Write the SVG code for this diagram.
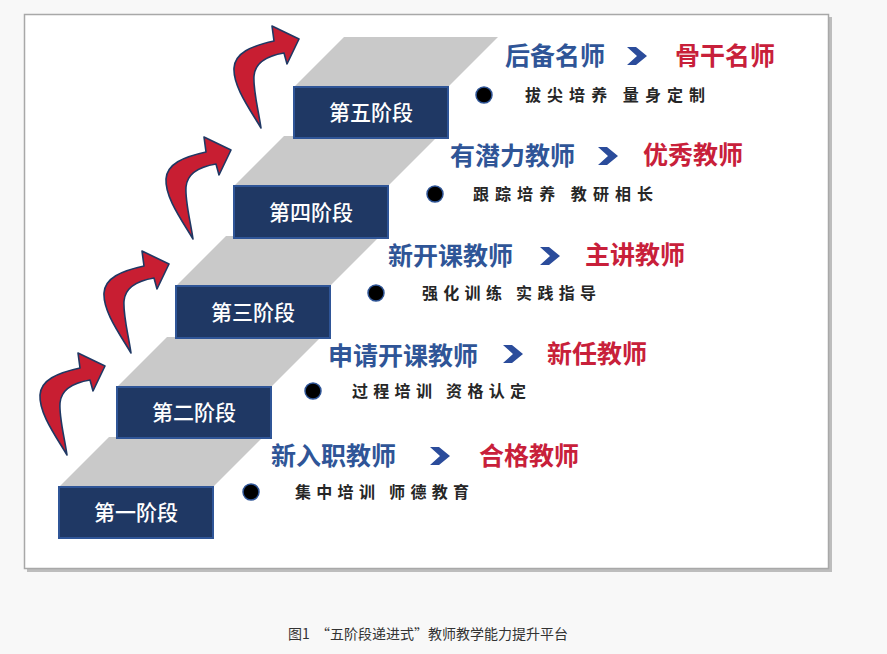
<svg xmlns="http://www.w3.org/2000/svg" xmlns:xlink="http://www.w3.org/1999/xlink" width="887" height="654" viewBox="0 0 887 654">
<style>
.box{fill:#1F3864;stroke:#2F5597;stroke-width:2}
.top{fill:#C9C9C9}
.bt{font-family:"Noto Sans CJK SC","Noto Sans",sans-serif;font-size:21px;font-weight:500;fill:#FFFFFF;text-anchor:middle}
.blue{font-family:"Noto Sans CJK SC","Noto Sans",sans-serif;font-size:25px;font-weight:700;fill:#2F5597}
.red{font-family:"Noto Sans CJK SC","Noto Sans",sans-serif;font-size:25px;font-weight:700;fill:#C8203A}
.desc{font-family:"Noto Sans CJK SC","Noto Sans",sans-serif;font-size:16px;font-weight:700;fill:#262626}
.dot{fill:#000000;stroke:#2F5597;stroke-width:1.5}
.chev{fill:#2B4C9B}
.arr{fill:#C81E32;stroke:#1F3864;stroke-width:1.6;stroke-linejoin:round}
.cap{font-family:"Noto Sans CJK SC","Noto Sans",sans-serif;font-size:14px;fill:#333333}
</style>
<defs>
<path id="arrow" d="M0,0 C-12,-20 -28,-42 -27,-60 C-26,-75 -10,-82 13,-87 L11,-102 L38,-89 L26,-64 L23,-75 C5,-72 -6,-64 -7,-52 C-8,-38 -3,-20 0,0 Z"/>
<path id="chev" d="M0,-9 L9,-9 L20,0 L9,9 L0,9 L10,0 Z"/>
</defs>
<rect x="0" y="0" width="887" height="654" fill="#F8F8F8"/>
<g id="frame">
<rect x="27" y="17" width="805" height="555" fill="#BDBDBD"/>
<rect x="24.5" y="14.5" width="804" height="554" fill="#FFFFFF" stroke="#A8A8A8" stroke-width="1.5"/>
</g>
<g id="stage1">
<polygon class="top" points="59,487 213,487 263,437 109,437"/>
<rect class="box" x="59" y="487" width="154" height="51"/>
<text class="bt" x="136" y="520">第一阶段</text>
</g>
<g id="stage2">
<polygon class="top" points="117,387 271,387 321,337 167,337"/>
<rect class="box" x="117" y="387" width="154" height="51"/>
<text class="bt" x="194" y="420">第二阶段</text>
</g>
<g id="stage3">
<polygon class="top" points="176,286 330,286 380,236 226,236"/>
<rect class="box" x="176" y="286" width="154" height="52"/>
<text class="bt" x="253" y="320">第三阶段</text>
</g>
<g id="stage4">
<polygon class="top" points="234,186 388,186 438,136 284,136"/>
<rect class="box" x="234" y="186" width="154" height="52"/>
<text class="bt" x="311" y="220">第四阶段</text>
</g>
<g id="stage5">
<polygon class="top" points="294,87 448,87 498,37 344,37"/>
<rect class="box" x="294" y="87" width="154" height="51"/>
<text class="bt" x="371" y="120">第五阶段</text>
</g>
<g id="connectors">
<use xlink:href="#arrow" class="arr" transform="translate(67,455)"/>
<use xlink:href="#arrow" class="arr" transform="translate(131,353)"/>
<use xlink:href="#arrow" class="arr" transform="translate(193,239)"/>
<use xlink:href="#arrow" class="arr" transform="translate(261,128)"/>
</g>
<g id="row1">
<text class="blue" x="271" y="465">新入职教师</text>
<use xlink:href="#chev" class="chev" transform="translate(430,456)"/>
<text class="red" x="479" y="465">合格教师</text>
<circle class="dot" cx="251" cy="492" r="8"/>
<text class="desc" x="295" y="498" textLength="174" lengthAdjust="spacing">集中培训 师德教育</text>
</g>
<g id="row2">
<text class="blue" x="328" y="365">申请开课教师</text>
<use xlink:href="#chev" class="chev" transform="translate(503,354)"/>
<text class="red" x="547" y="363">新任教师</text>
<circle class="dot" cx="313" cy="391" r="8"/>
<text class="desc" x="352" y="397" textLength="174" lengthAdjust="spacing">过程培训 资格认定</text>
</g>
<g id="row3">
<text class="blue" x="388" y="265">新开课教师</text>
<use xlink:href="#chev" class="chev" transform="translate(540,256)"/>
<text class="red" x="585" y="264">主讲教师</text>
<circle class="dot" cx="376" cy="293" r="8"/>
<text class="desc" x="422" y="299" textLength="174" lengthAdjust="spacing">强化训练 实践指导</text>
</g>
<g id="row4">
<text class="blue" x="450" y="165">有潜力教师</text>
<use xlink:href="#chev" class="chev" transform="translate(598,156)"/>
<text class="red" x="643" y="164">优秀教师</text>
<circle class="dot" cx="435" cy="194" r="8"/>
<text class="desc" x="473" y="200" textLength="180" lengthAdjust="spacing">跟踪培养 教研相长</text>
</g>
<g id="row5">
<text class="blue" x="505" y="65">后备名师</text>
<use xlink:href="#chev" class="chev" transform="translate(627,56)"/>
<text class="red" x="675" y="65">骨干名师</text>
<circle class="dot" cx="484" cy="95" r="8"/>
<text class="desc" x="525" y="101" textLength="180" lengthAdjust="spacing">拔尖培养 量身定制</text>
</g>
<g id="caption">
<text class="cap" y="639"><tspan x="288">图1</tspan><tspan x="316">“五阶段递进式”</tspan><tspan x="428" textLength="140" lengthAdjust="spacing">教师教学能力提升平台</tspan></text>
</g>
</svg>
